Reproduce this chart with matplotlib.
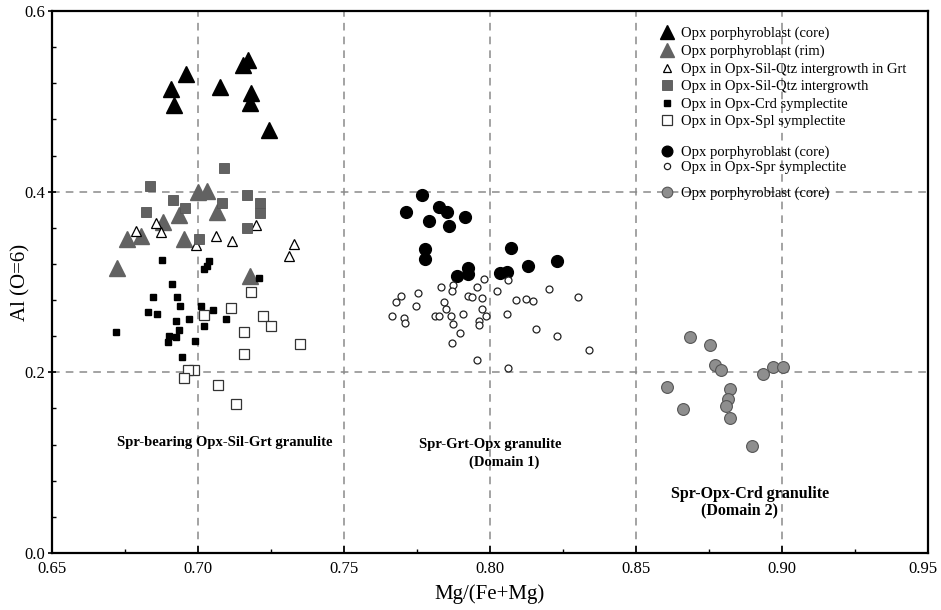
import matplotlib
matplotlib.use("Agg")
import matplotlib.pyplot as plt
from matplotlib.ticker import MultipleLocator
from matplotlib.transforms import ScaledTranslation

plt.rcParams['font.family'] = ['Liberation Serif', 'DejaVu Serif']

# === Data ===
# Spr-bearing Opx-Sil-Grt granulite
core_tri_x = [0.6958, 0.6906, 0.6918, 0.7075, 0.7155, 0.7172, 0.7180, 0.7178, 0.7243]
core_tri_y = [0.530, 0.514, 0.496, 0.516, 0.540, 0.546, 0.509, 0.498, 0.468]

rim_tri_x = [0.6999, 0.7032, 0.7064, 0.6936, 0.6879, 0.6756, 0.6804, 0.6953, 0.6724, 0.7178]
rim_tri_y = [0.400, 0.401, 0.378, 0.374, 0.366, 0.348, 0.351, 0.348, 0.316, 0.307]

grt_tri_x = [0.6856, 0.6787, 0.6872, 0.6992, 0.7060, 0.7117, 0.7199, 0.7330, 0.7312]
grt_tri_y = [0.365, 0.357, 0.355, 0.341, 0.351, 0.345, 0.363, 0.342, 0.329]

silq_sq_x = [0.7089, 0.6836, 0.6915, 0.6955, 0.6822, 0.7081, 0.7167, 0.7212, 0.7212, 0.7167, 0.7003]
silq_sq_y = [0.426, 0.406, 0.391, 0.382, 0.377, 0.388, 0.396, 0.388, 0.376, 0.360, 0.348]

crd_sq_x = [0.6876, 0.7039, 0.7030, 0.7019, 0.7208, 0.6910, 0.6847, 0.6927, 0.6938, 0.7010,
            0.7052, 0.6830, 0.6858, 0.6970, 0.7095, 0.6925, 0.7022, 0.6934, 0.6718, 0.6902,
            0.6925, 0.6898, 0.6991, 0.6946]
crd_sq_y = [0.324, 0.323, 0.318, 0.314, 0.304, 0.298, 0.283, 0.283, 0.273, 0.273,
            0.269, 0.267, 0.265, 0.259, 0.259, 0.257, 0.251, 0.247, 0.245, 0.240,
            0.239, 0.234, 0.235, 0.217]

spl_sq_x = [0.7181, 0.7112, 0.7020, 0.7222, 0.7250, 0.7159, 0.7349, 0.7159, 0.6987, 0.6967,
            0.6952, 0.7070, 0.7130]
spl_sq_y = [0.289, 0.271, 0.264, 0.262, 0.251, 0.245, 0.231, 0.220, 0.203, 0.203,
            0.194, 0.186, 0.165]

# Spr-Grt-Opx granulite (Domain 1)
d1_core_x = [0.7766, 0.7711, 0.7827, 0.7852, 0.7792, 0.7861, 0.7914, 0.7779, 0.7779, 0.8072,
             0.8228, 0.8131, 0.7924, 0.7924, 0.7888, 0.8034, 0.8057]
d1_core_y = [0.396, 0.377, 0.383, 0.378, 0.367, 0.362, 0.372, 0.336, 0.326, 0.338,
             0.323, 0.318, 0.316, 0.309, 0.307, 0.310, 0.311]

spr_x = [0.7979, 0.8063, 0.7832, 0.7874, 0.7869, 0.7954, 0.8025, 0.8203, 0.7754, 0.7925,
         0.7939, 0.7973, 0.8089, 0.8123, 0.8148, 0.8302, 0.7844, 0.7747, 0.7849, 0.7972,
         0.7907, 0.7812, 0.7825, 0.7865, 0.7986, 0.8057, 0.7962, 0.7874, 0.7964, 0.8158,
         0.7897, 0.8231, 0.7869, 0.8340, 0.7957, 0.8063, 0.7664, 0.7678, 0.7695, 0.7705,
         0.7709]
spr_y = [0.303, 0.302, 0.295, 0.297, 0.290, 0.295, 0.290, 0.292, 0.288, 0.284,
         0.283, 0.282, 0.280, 0.281, 0.279, 0.283, 0.278, 0.273, 0.270, 0.270,
         0.265, 0.262, 0.262, 0.262, 0.262, 0.265, 0.257, 0.254, 0.252, 0.248,
         0.244, 0.240, 0.232, 0.225, 0.214, 0.205, 0.262, 0.278, 0.285, 0.260,
         0.255]

# Spr-Opx-Crd granulite (Domain 2)
d2_core_x = [0.8685, 0.8753, 0.8771, 0.8791, 0.8934, 0.8968, 0.9002, 0.8605, 0.8822, 0.8814,
             0.8807, 0.8660, 0.8822, 0.8898]
d2_core_y = [0.239, 0.230, 0.208, 0.203, 0.198, 0.206, 0.206, 0.184, 0.181, 0.171,
             0.163, 0.159, 0.149, 0.118]

labels = ["Opx porphyroblast (core)", "Opx porphyroblast (rim)",
          "Opx in Opx-Sil-Qtz intergrowth in Grt", "Opx in Opx-Sil-Qtz intergrowth",
          "Opx in Opx-Crd symplectite", "Opx in Opx-Spl symplectite",
          "Opx porphyroblast (core)", "Opx in Opx-Spr symplectite",
          "Opx porphyroblast (core)"]

# === Plotting ===
fig = plt.figure(figsize=(9.41, 6.10), dpi=100)
ax = fig.add_axes([52 / 941, 1 - 553 / 610, 876 / 941, 542 / 610])

gray = "#626262"
h = []
h.append(ax.plot(core_tri_x, core_tri_y, '^', ms=11, mfc='black', mec='black', ls='none')[0])
h.append(ax.plot(rim_tri_x, rim_tri_y, '^', ms=11, mfc=gray, mec=gray, ls='none')[0])
h.append(ax.plot(grt_tri_x, grt_tri_y, '^', ms=7, mfc='white', mec='black', mew=0.9, ls='none')[0])
h.append(ax.plot(silq_sq_x, silq_sq_y, 's', ms=7.5, mfc=gray, mec='#555555', mew=0.6, ls='none')[0])
h.append(ax.plot(crd_sq_x, crd_sq_y, 's', ms=5, mfc='black', mec='black', ls='none')[0])
h.append(ax.plot(spl_sq_x, spl_sq_y, 's', ms=7.5, mfc='white', mec='#333333', mew=0.9, ls='none')[0])
h.append(ax.plot(d1_core_x, d1_core_y, 'o', ms=8.5, mfc='black', mec='black', ls='none')[0])
h.append(ax.plot(spr_x, spr_y, 'o', ms=5, mfc='white', mec='#222222', mew=0.9, ls='none')[0])
h.append(ax.plot(d2_core_x, d2_core_y, 'o', ms=8.5, mfc='#8e8e8e', mec='#555555', mew=0.8, ls='none')[0])

ax.set_xlim(0.65, 0.95)
ax.set_ylim(0.0, 0.6)
ax.set_xticks([0.65, 0.70, 0.75, 0.80, 0.85, 0.90, 0.95])
ax.set_xticklabels(["0.65", "0.70", "0.75", "0.80", "0.85", "0.90", "0.95"])
ax.set_yticks([0.0, 0.2, 0.4, 0.6])
ax.set_yticklabels(["0.0", "0.2", "0.4", "0.6"])
ax.xaxis.set_minor_locator(MultipleLocator(0.025))
ax.yaxis.set_minor_locator(MultipleLocator(0.04))
ax.tick_params(which='major', direction='inout', length=6, width=1.2, labelsize=12, pad=2)
ax.tick_params(which='minor', direction='in', length=3, width=1.0)
ax.tick_params(axis='x', which='major', direction='in', length=5, pad=6)

# nudge the last x label so it stays inside the figure
last = ax.get_xticklabels()[-1]
last.set_transform(last.get_transform() + ScaledTranslation(-4 / 72, 0, fig.dpi_scale_trans))

for s in ax.spines.values():
    s.set_linewidth(1.6)

# dashed guide lines
for gx in [0.70, 0.75, 0.80, 0.85, 0.90]:
    ax.axvline(gx, color='#8a8a8a', lw=1.1, ls=(0, (5, 4)), zorder=0)
for gy in [0.2, 0.4]:
    ax.axhline(gy, color='#8a8a8a', lw=1.1, ls=(0, (5, 4)), zorder=0)

ax.set_xlabel("Mg/(Fe+Mg)", fontsize=15, labelpad=5)
ax.set_ylabel("Al (O=6)", fontsize=15)
ax.yaxis.set_label_coords(-0.024, 0.5)

# field labels
fkw = dict(ha='center', va='center', fontsize=10.5, fontweight='bold')
ax.text(0.7092, 0.122, "Spr-bearing Opx-Sil-Grt granulite", **fkw)
ax.text(0.800, 0.120, "Spr-Grt-Opx granulite", **fkw)
ax.text(0.805, 0.101, "(Domain 1)", **fkw)
fkw['fontsize'] = 11.5
ax.text(0.889, 0.065, "Spr-Opx-Crd granulite", **fkw)
ax.text(0.8856, 0.047, "(Domain 2)", **fkw)

# legend in three groups
leg_kw = dict(frameon=False, fontsize=10.5, handlelength=1.0, handletextpad=0.45,
              labelspacing=0.3, borderpad=0, borderaxespad=0, loc='upper left',
              markerscale=0.9)
lg1 = ax.legend(h[:6], labels[:6], bbox_to_anchor=(0.694, 0.971), **leg_kw)
ax.add_artist(lg1)
leg_kw['labelspacing'] = 0.15
lg2 = ax.legend(h[6:8], labels[6:8], bbox_to_anchor=(0.694, 0.752), **leg_kw)
ax.add_artist(lg2)
ax.legend(h[8:], labels[8:], bbox_to_anchor=(0.694, 0.676), **leg_kw)

plt.savefig("out.png", dpi=100)
